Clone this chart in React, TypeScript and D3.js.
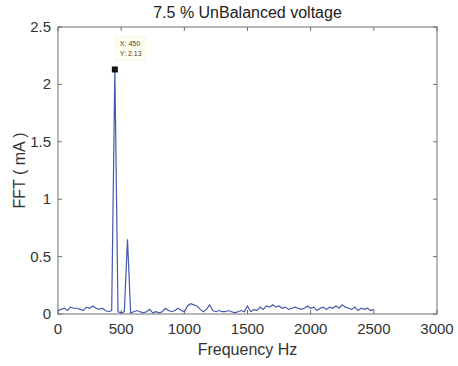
import React from "react";
import * as d3 from "d3";

const freqStart = 0;
const freqStep = 25;
const fftValues = [
  0.03, 0.04, 0.05, 0.03, 0.06, 0.05, 0.05, 0.04, 0.03, 0.06,
  0.05, 0.07, 0.05, 0.04, 0.05, 0.03, 0.02, 0.03, 2.13, 0.02,
  0.01, 0.02, 0.65, 0.01, 0.02, 0.03, 0.02, 0.01, 0.02, 0.04,
  0.01, 0.02, 0.01, 0.02, 0.05, 0.03, 0.02, 0.03, 0.05, 0.03,
  0.02, 0.07, 0.09, 0.08, 0.07, 0.04, 0.02, 0.04, 0.08, 0.03,
  0.02, 0.03, 0.02, 0.02, 0.03, 0.02, 0.01, 0.02, 0.03, 0.02,
  0.07, 0.02, 0.04, 0.03, 0.06, 0.04, 0.07, 0.06, 0.08, 0.06,
  0.07, 0.05, 0.06, 0.04, 0.05, 0.06, 0.05, 0.04, 0.05, 0.07,
  0.05, 0.06, 0.03, 0.05, 0.06, 0.04, 0.06, 0.05, 0.07, 0.05,
  0.08, 0.06, 0.05, 0.04, 0.06, 0.03, 0.05, 0.04, 0.05, 0.03,
  0.04,
];
const xTicks = [0, 500, 1000, 1500, 2000, 2500, 3000];
const yTicks = [0, 0.5, 1, 1.5, 2, 2.5];
const tipX = 450;
const tipY = 2.13;

const W = 458;
const H = 366;
const m = { left: 58, right: 21, top: 27, bottom: 52 };

export default function App() {
  const x = d3.scaleLinear().domain([0, 3000]).range([m.left, W - m.right]);
  const y = d3.scaleLinear().domain([0, 2.5]).range([H - m.bottom, m.top]);
  const pts = fftValues.map((v, i) => [freqStart + i * freqStep, v] as [number, number]);
  const line = d3
    .line<[number, number]>()
    .x((d) => x(d[0]))
    .y((d) => y(d[1]));
  const axisColor = "#6e6e6e";
  const textColor = "#333";
  const font = "Liberation Sans, Arial, Helvetica, sans-serif";
  const x0 = x(0), x1 = x(3000), y0 = y(0), y1 = y(2.5);
  const tl = 4;
  const px = x(tipX), py = y(tipY);
  return (
    <svg
      width={W}
      height={H}
      style={{ position: "absolute", left: 0, top: 0, background: "#fff" }}
      fontFamily={font}
    >
      <rect x={0} y={0} width={W} height={H} fill="#fff" />
      <rect x={x0} y={y1} width={x1 - x0} height={y0 - y1} fill="none" stroke={axisColor} strokeWidth={1} />
      {xTicks.map((t) => (
        <g key={"xt" + t}>
          <line x1={x(t)} x2={x(t)} y1={y0} y2={y0 - tl} stroke={axisColor} />
          <line x1={x(t)} x2={x(t)} y1={y1} y2={y1 + tl} stroke={axisColor} />
          <text x={x(t)} y={y0 + 20} textAnchor="middle" fontSize={15} fill={textColor}>
            {t}
          </text>
        </g>
      ))}
      {yTicks.map((t) => (
        <g key={"yt" + t}>
          <line x1={x0} x2={x0 + tl} y1={y(t)} y2={y(t)} stroke={axisColor} />
          <line x1={x1} x2={x1 - tl} y1={y(t)} y2={y(t)} stroke={axisColor} />
          <text x={x0 - 7} y={y(t) + 5} textAnchor="end" fontSize={15} fill={textColor}>
            {t}
          </text>
        </g>
      ))}
      <path d={line(pts) || ""} fill="none" stroke="#4658ad" strokeWidth={1.2} />
      <rect x={px - 3} y={py - 3} width={6} height={6} fill="#111" />
      <rect x={px + 1} y={py - 33} width={30} height={24} fill="#fffff0" stroke="#eeeedd" strokeWidth={0.6} />
      <text x={px + 5} y={py - 23} fontSize={7} fill="#444">
        {"X: " + tipX}
      </text>
      <text x={px + 5} y={py - 13} fontSize={7} fill="#444">
        {"Y: " + tipY}
      </text>
      <text x={(x0 + x1) / 2} y={18} textAnchor="middle" fontSize={16} fill="#222">
        7.5 % UnBalanced voltage
      </text>
      <text x={(x0 + x1) / 2} y={H - 11} textAnchor="middle" fontSize={16} fill={textColor}>
        Frequency Hz
      </text>
      <text
        transform={`translate(25,${(y0 + y1) / 2}) rotate(-90)`}
        textAnchor="middle"
        fontSize={16}
        fill={textColor}
      >
        FFT ( mA )
      </text>
    </svg>
  );
}
